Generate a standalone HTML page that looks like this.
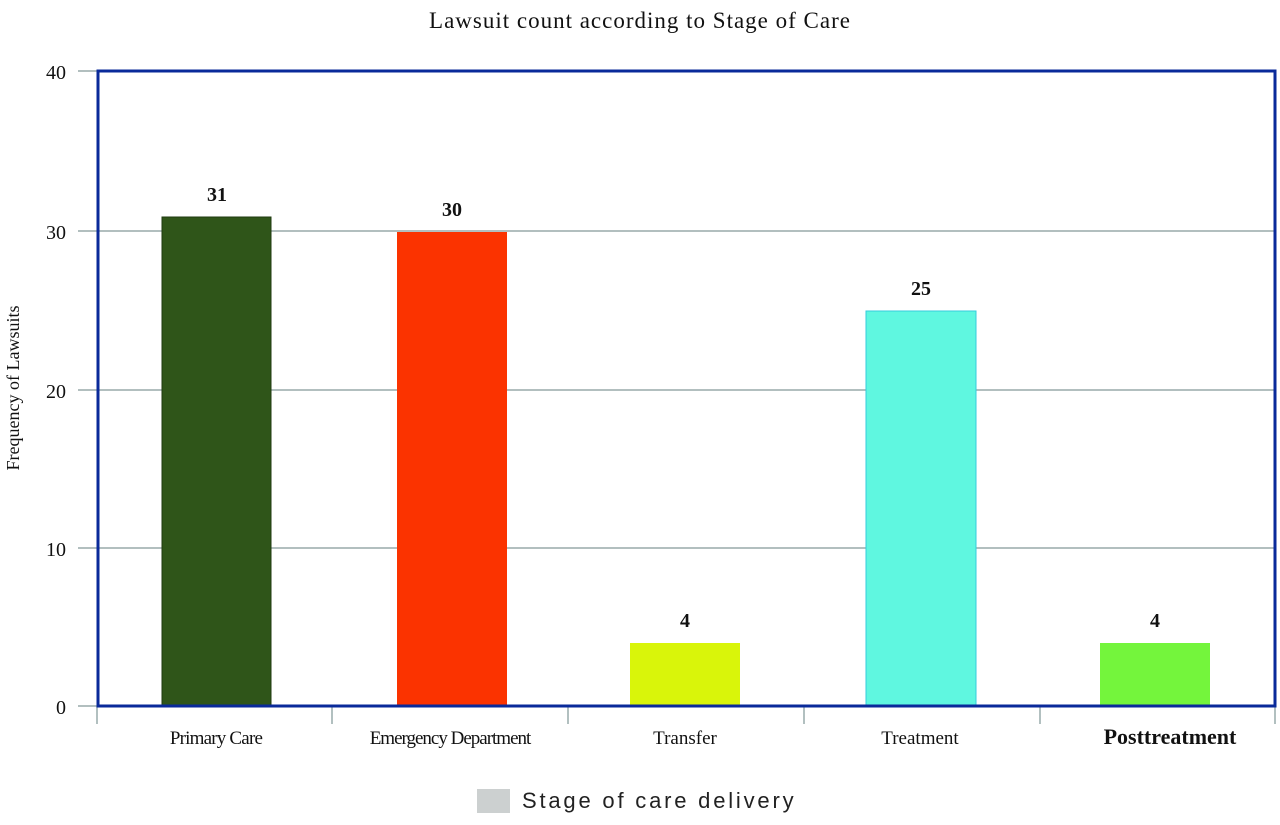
<!DOCTYPE html>
<html><head><meta charset="utf-8"><style>
body{margin:0;background:#fff}
</style></head><body>
<svg width="1280" height="820" xmlns="http://www.w3.org/2000/svg" font-family="Liberation Serif, serif">
<rect width="1280" height="820" fill="#fff"/>
<text x="640" y="28" text-anchor="middle" font-size="23" fill="#111" letter-spacing="1">Lawsuit count according to Stage of Care</text>
<g stroke="#9aa" stroke-width="1.5">
<line x1="78" y1="71" x2="97" y2="71"/>
<line x1="78" y1="231" x2="1275" y2="231"/>
<line x1="78" y1="390" x2="1275" y2="390"/>
<line x1="78" y1="548" x2="1275" y2="548"/>
<line x1="78" y1="706" x2="97" y2="706"/>
<line x1="97" y1="706" x2="97" y2="724"/>
<line x1="332" y1="706" x2="332" y2="724"/>
<line x1="568" y1="706" x2="568" y2="724"/>
<line x1="804" y1="706" x2="804" y2="724"/>
<line x1="1040" y1="706" x2="1040" y2="724"/>
<line x1="1275" y1="706" x2="1275" y2="724"/>
</g>
<rect x="162" y="217" width="109" height="489" fill="#2f5519" stroke="#1f3a10"/>
<rect x="397" y="232" width="110" height="474" fill="#fb3300"/>
<rect x="630" y="643" width="110" height="63" fill="#d9f50a"/>
<rect x="866" y="311" width="110" height="395" fill="#5ff7e0" stroke="#3cd"/>
<rect x="1100" y="643" width="110" height="63" fill="#74f53c"/>
<rect x="98" y="71" width="1177" height="635" fill="none" stroke="#0a2a9a" stroke-width="3"/>
<g font-size="20" font-weight="bold" text-anchor="middle" fill="#111">
<text x="217" y="201">31</text><text x="452" y="216">30</text><text x="685" y="627">4</text><text x="921" y="295">25</text><text x="1155" y="627">4</text>
</g>
<g font-size="20" text-anchor="end" fill="#111">
<text x="66" y="79">40</text><text x="66" y="239">30</text><text x="66" y="398">20</text><text x="66" y="556">10</text><text x="66" y="714">0</text>
</g>
<text transform="translate(19,388) rotate(-90)" font-size="18" text-anchor="middle" fill="#111">Frequency of Lawsuits</text>
<g font-size="19" text-anchor="middle" fill="#111">
<text x="216" y="744" letter-spacing="-0.8">Primary Care</text>
<text x="450" y="744" letter-spacing="-1">Emergency Department</text>
<text x="685" y="744">Transfer</text>
<text x="920" y="744">Treatment</text>
<text x="1170" y="744" font-size="22" font-weight="bold">Posttreatment</text>
</g>
<rect x="477" y="789" width="33" height="24" fill="#ccd0d0"/>
<text x="522" y="808" font-family="Liberation Sans, sans-serif" font-size="22" fill="#222" letter-spacing="2.8">Stage of care delivery</text>
</svg>
</body></html>
